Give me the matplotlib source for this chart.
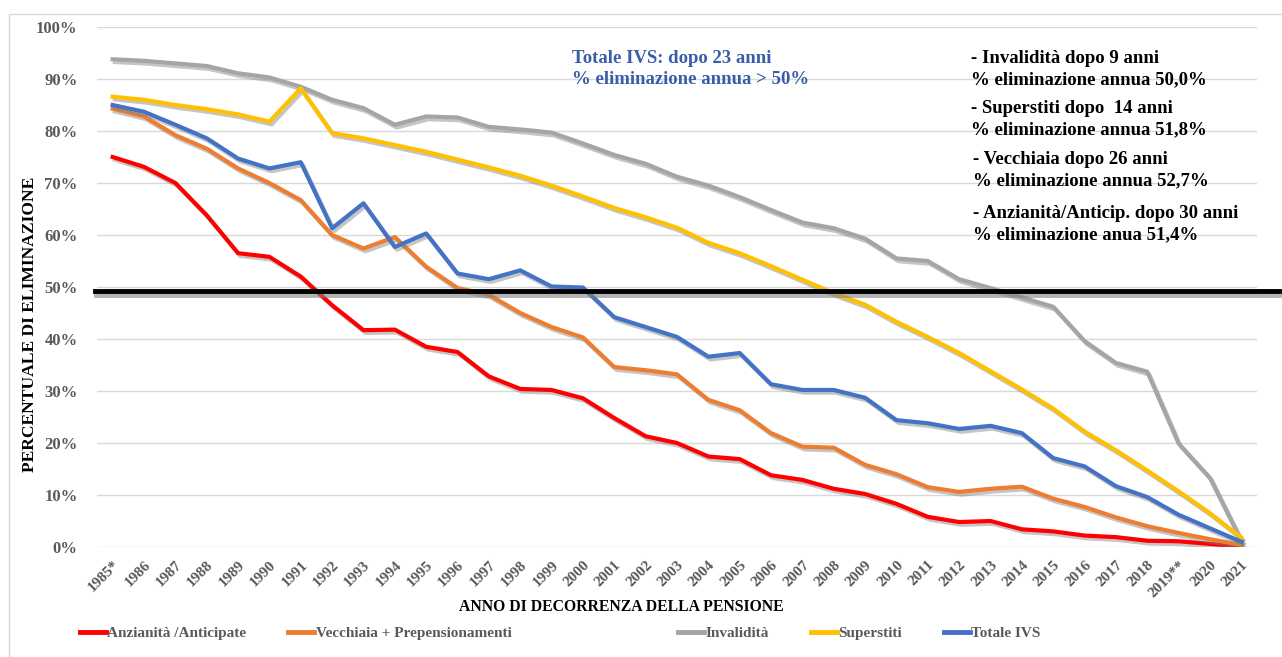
import numpy as np
import matplotlib.pyplot as plt
import matplotlib.patheffects as pe
from matplotlib.lines import Line2D
from matplotlib.patches import Rectangle
from matplotlib.transforms import blended_transform_factory

plt.rcParams['font.family'] = ['Liberation Serif', 'DejaVu Serif']
plt.rcParams['font.weight'] = 'bold'

# Dati (quota percentuale di eliminazione)
anni = ['1985*'] + [str(a) for a in range(1986, 2019)] + ['2019**', '2020', '2021']

anzianita = [75.0, 73.1, 70.0, 63.8, 56.5, 55.8, 52.0, 46.5, 41.7, 41.8, 38.5, 37.5,
             32.8, 30.4, 30.2, 28.6, 24.8, 21.3, 20.0, 17.4, 16.9, 13.8, 12.9, 11.2,
             10.2, 8.3, 5.8, 4.8, 5.0, 3.4, 3.0, 2.2, 1.9, 1.2, 1.1, 0.6, 0.1]
vecchiaia = [84.3, 82.8, 79.2, 76.6, 72.8, 70.0, 66.7, 60.0, 57.4, 59.6, 53.9, 49.8,
             48.5, 45.0, 42.3, 40.3, 34.6, 34.0, 33.2, 28.3, 26.3, 21.9, 19.3, 19.1,
             15.8, 14.0, 11.5, 10.6, 11.2, 11.6, 9.3, 7.7, 5.7, 4.0, 2.7, 1.5, 0.4]
invalidita = [93.8, 93.5, 93.0, 92.5, 91.1, 90.3, 88.5, 86.0, 84.4, 81.2, 82.8, 82.6,
              80.8, 80.3, 79.7, 77.6, 75.4, 73.7, 71.2, 69.5, 67.3, 64.8, 62.4, 61.3,
              59.3, 55.5, 55.0, 51.5, 49.8, 48.0, 46.2, 39.6, 35.4, 33.7, 19.9, 13.3, 1.2]
superstiti = [86.6, 86.0, 85.0, 84.2, 83.2, 81.8, 88.2, 79.6, 78.6, 77.3, 76.0, 74.5,
              73.0, 71.4, 69.5, 67.4, 65.2, 63.4, 61.4, 58.5, 56.5, 54.0, 51.4, 48.8,
              46.6, 43.3, 40.4, 37.3, 33.8, 30.3, 26.6, 22.2, 18.6, 14.7, 10.7, 6.5, 1.8]
totale_ivs = [85.0, 83.7, 81.2, 78.6, 74.7, 72.8, 74.0, 61.3, 66.1, 57.7, 60.3, 52.6,
              51.5, 53.2, 50.1, 49.9, 44.2, 42.3, 40.4, 36.6, 37.3, 31.3, 30.2, 30.2,
              28.7, 24.4, 23.8, 22.7, 23.3, 21.9, 17.1, 15.5, 11.7, 9.6, 6.2, 3.6, 1.0]
soglia = 49.2

serie = [
    ('Anzianità /Anticipate', anzianita, '#FF0000'),
    ('Vecchiaia + Prepensionamenti', vecchiaia, '#ED7D31'),
    ('Invalidità', invalidita, '#A5A5A5'),
    ('Superstiti', superstiti, '#FFC000'),
    ('Totale IVS', totale_ivs, '#4472C4'),
]

W, H = 1282, 657
fig = plt.figure(figsize=(W / 100, H / 100), dpi=100)
ax = fig.add_axes([97 / W, 1 - 547 / H, (1257 - 97) / W, (547 - 27) / H])

# bordo esterno del grafico
fig.patches.append(Rectangle((9 / W, -0.1), 1.2, 1 - 14 / H + 0.1, transform=fig.transFigure,
                             fill=False, edgecolor='#D9D9D9', lw=1))

ombra = [pe.SimpleLineShadow(offset=(1.5, -2), shadow_color='#7F7F7F', alpha=0.45), pe.Normal()]
x = np.arange(len(anni))
handles = []
for nome, valori, col in serie:
    ax.plot(x, np.array(valori) / 100, color=col, lw=3, label=nome,
            path_effects=ombra, zorder=3)
    handles.append(Line2D([], [], color=col, lw=3.5))

# linea del 50% (esce dal grafico fino al bordo destro)
tr = blended_transform_factory(fig.transFigure, ax.transData)
ax.add_line(Line2D([95 / W, 1.0], [soglia / 100] * 2, transform=tr, color='black', lw=3.5,
                   clip_on=False, zorder=4,
                   path_effects=[pe.SimpleLineShadow(offset=(1, -3), shadow_color='#7F7F7F', alpha=0.6),
                                 pe.Normal()]))

ax.set_xlim(-0.5, len(anni) - 0.5)
ax.set_ylim(0, 1.0)
ax.set_yticks(np.arange(0, 1.01, 0.1))
ax.set_yticklabels([f'{int(v)}%' for v in np.arange(0, 101, 10)], fontsize=12, color='#595959')
ax.set_xticks(x)
ax.set_xticklabels(anni, rotation=45, ha='right', rotation_mode='anchor', fontsize=11, color='#595959')
ax.tick_params(length=0, axis='both')
ax.tick_params(axis='y', pad=14)
ax.tick_params(axis='x', pad=8)
ax.grid(axis='y', color='#D9D9D9', lw=1)
ax.set_axisbelow(True)
for s in ax.spines.values():
    s.set_visible(False)

fig.text(30 / W, 1 - 324 / H, 'PERCENTUALE DI ELIMINAZIONE', rotation=90, ha='center', va='center',
         fontsize=12.6, color='black')
fig.text(621 / W, 1 - 607 / H, 'ANNO DI DECORRENZA DELLA PENSIONE', ha='center', va='center',
         fontsize=11.3, color='black')

# annotazioni
fig.text(572 / W, 1 - 69 / H, 'Totale IVS: dopo 23 anni\n% eliminazione annua > 50%', ha='left', va='center',
         fontsize=13.5, color='#3A5DA8', linespacing=1.35)
note = [
    (971, 69, '- Invalidità dopo 9 anni\n% eliminazione annua 50,0%'),
    (971, 119, '- Superstiti dopo  14 anni\n% eliminazione annua 51,8%'),
    (973, 170, '- Vecchiaia dopo 26 anni\n% eliminazione annua 52,7%'),
    (973, 224, '- Anzianità/Anticip. dopo 30 anni\n% eliminazione anua 51,4%'),
]
for xx, yy, t in note:
    fig.text(xx / W, 1 - yy / H, t, ha='left', va='center', fontsize=13.5, color='black', linespacing=1.35)

# legenda
nomi = [s[0] for s in serie]
leg_kw = dict(loc='center left', frameon=False, fontsize=11, handlelength=1.7, handletextpad=0.1,
              labelcolor='#595959')
fig.legend(handles[:2], nomi[:2], ncol=2, columnspacing=2.75,
           bbox_to_anchor=(66 / W, 1 - 633 / H), **leg_kw)
fig.legend(handles[2:], nomi[2:], ncol=3, columnspacing=2.75,
           bbox_to_anchor=(664 / W, 1 - 633 / H), **leg_kw)

fig.savefig('out.png', dpi=100)
